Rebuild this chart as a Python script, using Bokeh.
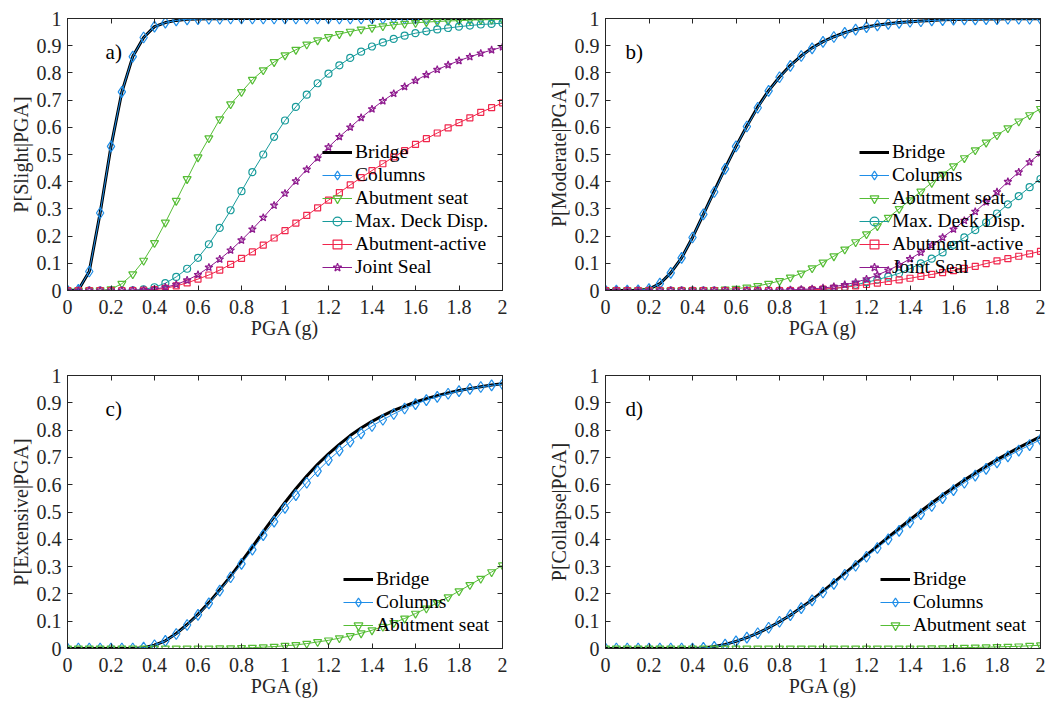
from bokeh.plotting import figure
from bokeh.models import (LinearAxis, Range1d, Legend, LegendItem,
                          CustomJSTickFormatter, FixedTicker, Label)
from bokeh.layouts import gridplot
from bokeh.embed import file_html
from bokeh.resources import INLINE

# ---------------- data ----------------
pga = [0.0, 0.05, 0.1, 0.15, 0.2, 0.25, 0.3, 0.35, 0.4, 0.45,
       0.5, 0.55, 0.6, 0.65, 0.7, 0.75, 0.8, 0.85, 0.9, 0.95,
       1.0, 1.05, 1.1, 1.15, 1.2, 1.25, 1.3, 1.35, 1.4, 1.45,
       1.5, 1.55, 1.6, 1.65, 1.7, 1.75, 1.8, 1.85, 1.9, 1.95, 2.0]

x_ticks = [0, 0.2, 0.4, 0.6, 0.8, 1.0, 1.2, 1.4, 1.6, 1.8, 2.0]
y_ticks = [0, 0.1, 0.2, 0.3, 0.4, 0.5, 0.6, 0.7, 0.8, 0.9, 1.0]

# a) Slight
a_bridge = [0, 0.002, 0.07, 0.285, 0.53, 0.73, 0.86, 0.93, 0.97, 0.985,
            0.993, 0.997, 0.998, 0.999, 0.999, 1, 1, 1, 1, 1,
            1, 1, 1, 1, 1, 1, 1, 1, 1, 1,
            1, 1, 1, 1, 1, 1, 1, 1, 1, 1, 1]
a_columns = [0, 0.002, 0.07, 0.285, 0.53, 0.73, 0.86, 0.93, 0.97, 0.985,
             0.993, 0.997, 0.998, 0.999, 0.999, 1, 1, 1, 1, 1,
             1, 1, 1, 1, 1, 1, 1, 1, 1, 1,
             1, 1, 1, 1, 1, 1, 1, 1, 1, 1, 1]
a_seat = [0, 0, 0, 0.001, 0.005, 0.025, 0.06, 0.11, 0.175, 0.25,
          0.33, 0.41, 0.49, 0.56, 0.63, 0.685, 0.73, 0.775, 0.81, 0.84,
          0.865, 0.885, 0.905, 0.92, 0.932, 0.943, 0.952, 0.96, 0.966, 0.972,
          0.977, 0.981, 0.984, 0.987, 0.989, 0.991, 0.992, 0.994, 0.995, 0.996, 0.996]
a_deck = [0, 0, 0, 0, 0, 0, 0.001, 0.004, 0.012, 0.027,
          0.05, 0.08, 0.12, 0.17, 0.23, 0.295, 0.365, 0.435, 0.50, 0.565,
          0.625, 0.675, 0.72, 0.762, 0.797, 0.828, 0.855, 0.878, 0.897, 0.912,
          0.925, 0.937, 0.946, 0.953, 0.96, 0.965, 0.97, 0.974, 0.978, 0.98, 0.983]
a_active = [0, 0, 0, 0, 0, 0, 0, 0.001, 0.003, 0.008,
            0.017, 0.028, 0.042, 0.057, 0.075, 0.096, 0.118, 0.142, 0.167, 0.193,
            0.22, 0.248, 0.276, 0.304, 0.332, 0.36, 0.388, 0.415, 0.441, 0.466,
            0.491, 0.514, 0.537, 0.558, 0.579, 0.598, 0.617, 0.635, 0.655, 0.672, 0.69]
a_joint = [0, 0, 0, 0, 0, 0, 0.001, 0.002, 0.005, 0.012,
           0.022, 0.038, 0.058, 0.085, 0.115, 0.148, 0.185, 0.225, 0.268, 0.313,
           0.357, 0.402, 0.445, 0.487, 0.527, 0.565, 0.600, 0.635, 0.667, 0.697,
           0.724, 0.749, 0.772, 0.793, 0.812, 0.829, 0.845, 0.859, 0.872, 0.884, 0.895]

# b) Moderate
b_bridge = [0, 0, 0, 0.001, 0.005, 0.025, 0.065, 0.12, 0.195, 0.28,
            0.365, 0.45, 0.53, 0.605, 0.675, 0.735, 0.785, 0.828, 0.863, 0.892,
            0.915, 0.933, 0.948, 0.96, 0.969, 0.976, 0.981, 0.985, 0.988, 0.991,
            0.993, 0.995, 0.996, 0.997, 0.997, 0.998, 0.998, 0.999, 0.999, 0.999, 0.999]
b_columns = [0, 0, 0, 0.001, 0.005, 0.025, 0.065, 0.12, 0.195, 0.28,
             0.362, 0.447, 0.53, 0.603, 0.672, 0.734, 0.784, 0.826, 0.862, 0.89,
             0.914, 0.932, 0.947, 0.959, 0.968, 0.975, 0.98, 0.984, 0.988, 0.99,
             0.993, 0.994, 0.996, 0.997, 0.997, 0.998, 0.998, 0.999, 0.999, 0.999, 0.999]
b_seat = [0, 0, 0, 0, 0, 0, 0, 0, 0, 0.001,
          0.002, 0.004, 0.007, 0.011, 0.017, 0.025, 0.035, 0.048, 0.063, 0.082,
          0.103, 0.126, 0.151, 0.178, 0.207, 0.237, 0.268, 0.3, 0.332, 0.364,
          0.396, 0.427, 0.457, 0.487, 0.516, 0.544, 0.571, 0.597, 0.622, 0.645, 0.668]
b_deck = [0, 0, 0, 0, 0, 0, 0, 0, 0, 0,
          0, 0, 0, 0, 0, 0, 0, 0, 0.001, 0.002,
          0.003, 0.007, 0.013, 0.021, 0.03, 0.04, 0.051, 0.063, 0.08, 0.1,
          0.117, 0.14, 0.168, 0.195, 0.222, 0.25, 0.283, 0.317, 0.347, 0.38, 0.41]
b_active = [0, 0, 0, 0, 0, 0, 0, 0, 0, 0,
            0, 0, 0, 0, 0, 0, 0, 0, 0.001, 0.002,
            0.005, 0.008, 0.012, 0.017, 0.022, 0.027, 0.033, 0.039, 0.045, 0.052,
            0.059, 0.066, 0.073, 0.081, 0.089, 0.099, 0.109, 0.117, 0.126, 0.135, 0.144]
b_joint = [0, 0, 0, 0, 0, 0, 0, 0, 0, 0,
           0, 0, 0, 0, 0, 0, 0.001, 0.002, 0.004, 0.006,
           0.009, 0.014, 0.021, 0.03, 0.042, 0.057, 0.074, 0.094, 0.116, 0.14,
           0.166, 0.195, 0.225, 0.257, 0.29, 0.325, 0.362, 0.4, 0.435, 0.472, 0.505]

# c) Extensive
c_bridge = [0, 0, 0, 0, 0, 0, 0, 0.003, 0.012, 0.028,
            0.055, 0.088, 0.125, 0.168, 0.215, 0.265, 0.318, 0.372, 0.428, 0.482,
            0.535, 0.585, 0.632, 0.675, 0.713, 0.748, 0.78, 0.808, 0.832, 0.853,
            0.872, 0.888, 0.903, 0.915, 0.926, 0.936, 0.945, 0.952, 0.959, 0.965, 0.97]
c_columns = [0, 0, 0, 0, 0, 0, 0, 0.003, 0.012, 0.028,
             0.053, 0.086, 0.123, 0.165, 0.212, 0.261, 0.31, 0.362, 0.415, 0.465,
             0.515, 0.562, 0.607, 0.65, 0.69, 0.725, 0.758, 0.788, 0.815, 0.838,
             0.859, 0.879, 0.895, 0.91, 0.922, 0.933, 0.943, 0.951, 0.958, 0.964, 0.968]
c_seat = [0, 0, 0, 0, 0, 0, 0, 0, 0, 0,
          0, 0, 0, 0, 0.001, 0.001, 0.002, 0.003, 0.005, 0.007,
          0.01, 0.013, 0.018, 0.024, 0.03, 0.038, 0.046, 0.056, 0.067, 0.08,
          0.094, 0.11, 0.128, 0.147, 0.167, 0.188, 0.21, 0.233, 0.256, 0.28, 0.305]

# d) Collapse
d_bridge = [0, 0, 0, 0, 0, 0, 0, 0, 0, 0.002,
            0.007, 0.015, 0.026, 0.04, 0.056, 0.076, 0.098, 0.122, 0.15, 0.178,
            0.21, 0.242, 0.275, 0.308, 0.342, 0.375, 0.408, 0.44, 0.472, 0.503,
            0.533, 0.562, 0.59, 0.617, 0.643, 0.668, 0.692, 0.714, 0.736, 0.756, 0.776]
d_columns = [0, 0, 0, 0, 0, 0, 0, 0, 0, 0.002,
             0.006, 0.014, 0.026, 0.04, 0.056, 0.076, 0.098, 0.122, 0.148, 0.176,
             0.205, 0.237, 0.27, 0.303, 0.336, 0.368, 0.4, 0.431, 0.462, 0.492,
             0.522, 0.551, 0.58, 0.607, 0.633, 0.658, 0.682, 0.704, 0.725, 0.745, 0.765]
d_seat = [0, 0, 0, 0, 0, 0, 0, 0, 0, 0,
          0, 0, 0, 0, 0, 0, 0, 0, 0, 0,
          0, 0, 0, 0, 0, 0, 0, 0, 0, 0,
          0.001, 0.001, 0.002, 0.003, 0.004, 0.005, 0.006, 0.007, 0.008, 0.01, 0.012]

names = ["Bridge", "Columns", "Abutment seat", "Max. Deck Disp.",
         "Abutment-active", "Joint Seal"]

# ---------------- style ----------------
FONT = "Liberation Serif"
AXC = "#262626"
STYLE = {
    "Columns": dict(color="#1f8ee8", marker="diamond", size=11),
    "Abutment seat": dict(color="#55bd35", marker="inverted_triangle", size=8),
    "Max. Deck Disp.": dict(color="#189b9b", marker="circle", size=7),
    "Abutment-active": dict(color="#f0264c", marker="square", size=6),
    "Joint Seal": dict(color="#8e1a8e", marker="star", size=8),
}

fmt_code = "return String(Number(tick.toFixed(2)));"


def style_axis(ax, ticks, show_labels=True, standoff=6):
    ax.ticker = FixedTicker(ticks=ticks)
    ax.formatter = CustomJSTickFormatter(code=fmt_code)
    ax.major_tick_in = 5
    ax.major_tick_out = 0
    ax.minor_tick_in = 0
    ax.minor_tick_out = 0
    ax.axis_line_color = AXC
    ax.major_tick_line_color = AXC
    ax.major_label_text_font = FONT
    ax.major_label_text_font_size = "20px"
    ax.major_label_text_color = AXC
    ax.major_label_standoff = standoff
    ax.axis_label_text_font = FONT
    ax.axis_label_text_font_size = "20px"
    ax.axis_label_text_font_style = "normal"
    ax.axis_label_text_color = AXC
    ax.axis_label_standoff = 2
    if not show_labels:
        ax.major_label_text_font_size = "1px"
        ax.major_label_text_color = None
        ax.major_label_standoff = 0


def panel(tag, tag_x, ylabel, series, width, height, borders, leg_loc):
    left, right, top, bottom = borders
    p = figure(width=width, height=height, output_backend="svg",
               toolbar_location=None, x_range=Range1d(0, 2), y_range=Range1d(0, 1),
               min_border_left=left, min_border_right=right,
               min_border_top=top, min_border_bottom=bottom,
               background_fill_color="white", border_fill_color="white",
               outline_line_color=AXC, outline_line_width=1)
    p.xgrid.visible = False
    p.ygrid.visible = False
    p.xaxis.axis_label = "PGA (g)"
    p.yaxis.axis_label = ylabel
    style_axis(p.xaxis[0], x_ticks, standoff=9)
    p.xaxis[0].axis_label_standoff = 0
    style_axis(p.yaxis[0], y_ticks, standoff=6)
    top_ax = LinearAxis()
    style_axis(top_ax, x_ticks, show_labels=False)
    p.add_layout(top_ax, "above")
    right_ax = LinearAxis()
    style_axis(right_ax, y_ticks, show_labels=False)
    p.add_layout(right_ax, "right")

    items = []
    for name, vals in series:
        if name == "Bridge":
            r = p.line(pga, vals, line_color="black", line_width=3)
            items.append(LegendItem(label=name, renderers=[r]))
        else:
            st = STYLE[name]
            r1 = p.line(pga, vals, line_color=st["color"], line_width=1)
            r2 = p.scatter(pga, vals, marker=st["marker"], size=st["size"],
                           line_color=st["color"], fill_color=None, line_width=1.2)
            items.append(LegendItem(label=name, renderers=[r1, r2]))

    leg = Legend(items=items, location=leg_loc,
                 background_fill_alpha=0, border_line_alpha=0,
                 padding=0, margin=0, spacing=1,
                 glyph_width=30, glyph_height=22, label_height=22,
                 label_standoff=3, label_text_font=FONT,
                 label_text_font_size="19.5px", label_text_color="black")
    p.add_layout(leg)

    p.add_layout(Label(x=tag_x, y=0.878, text=tag, text_font=FONT,
                       text_font_size="21px", text_color="black",
                       text_baseline="middle"))
    return p


pa = panel("a)", 0.175, "P[Slight|PGA]",
           list(zip(names, [a_bridge, a_columns, a_seat, a_deck, a_active, a_joint])),
           508, 346, (67, 6, 18, 56), (255, 12))
pb = panel("b)", 0.092, "P[Moderate|PGA]",
           list(zip(names, [b_bridge, b_columns, b_seat, b_deck, b_active, b_joint])),
           542, 346, (97, 10, 18, 56), (254, 12))
pc = panel("c)", 0.175, "P[Extensive|PGA]",
           list(zip(names[:3], [c_bridge, c_columns, c_seat])),
           508, 359, (67, 6, 29, 57), (276, 12))
pd_ = panel("d)", 0.092, "P[Collapse|PGA]",
            list(zip(names[:3], [d_bridge, d_columns, d_seat])),
            542, 359, (97, 10, 29, 57), (275, 12))

grid = gridplot([[pa, pb], [pc, pd_]], toolbar_location=None)

open("out.html", "w").write(file_html(grid, INLINE))
